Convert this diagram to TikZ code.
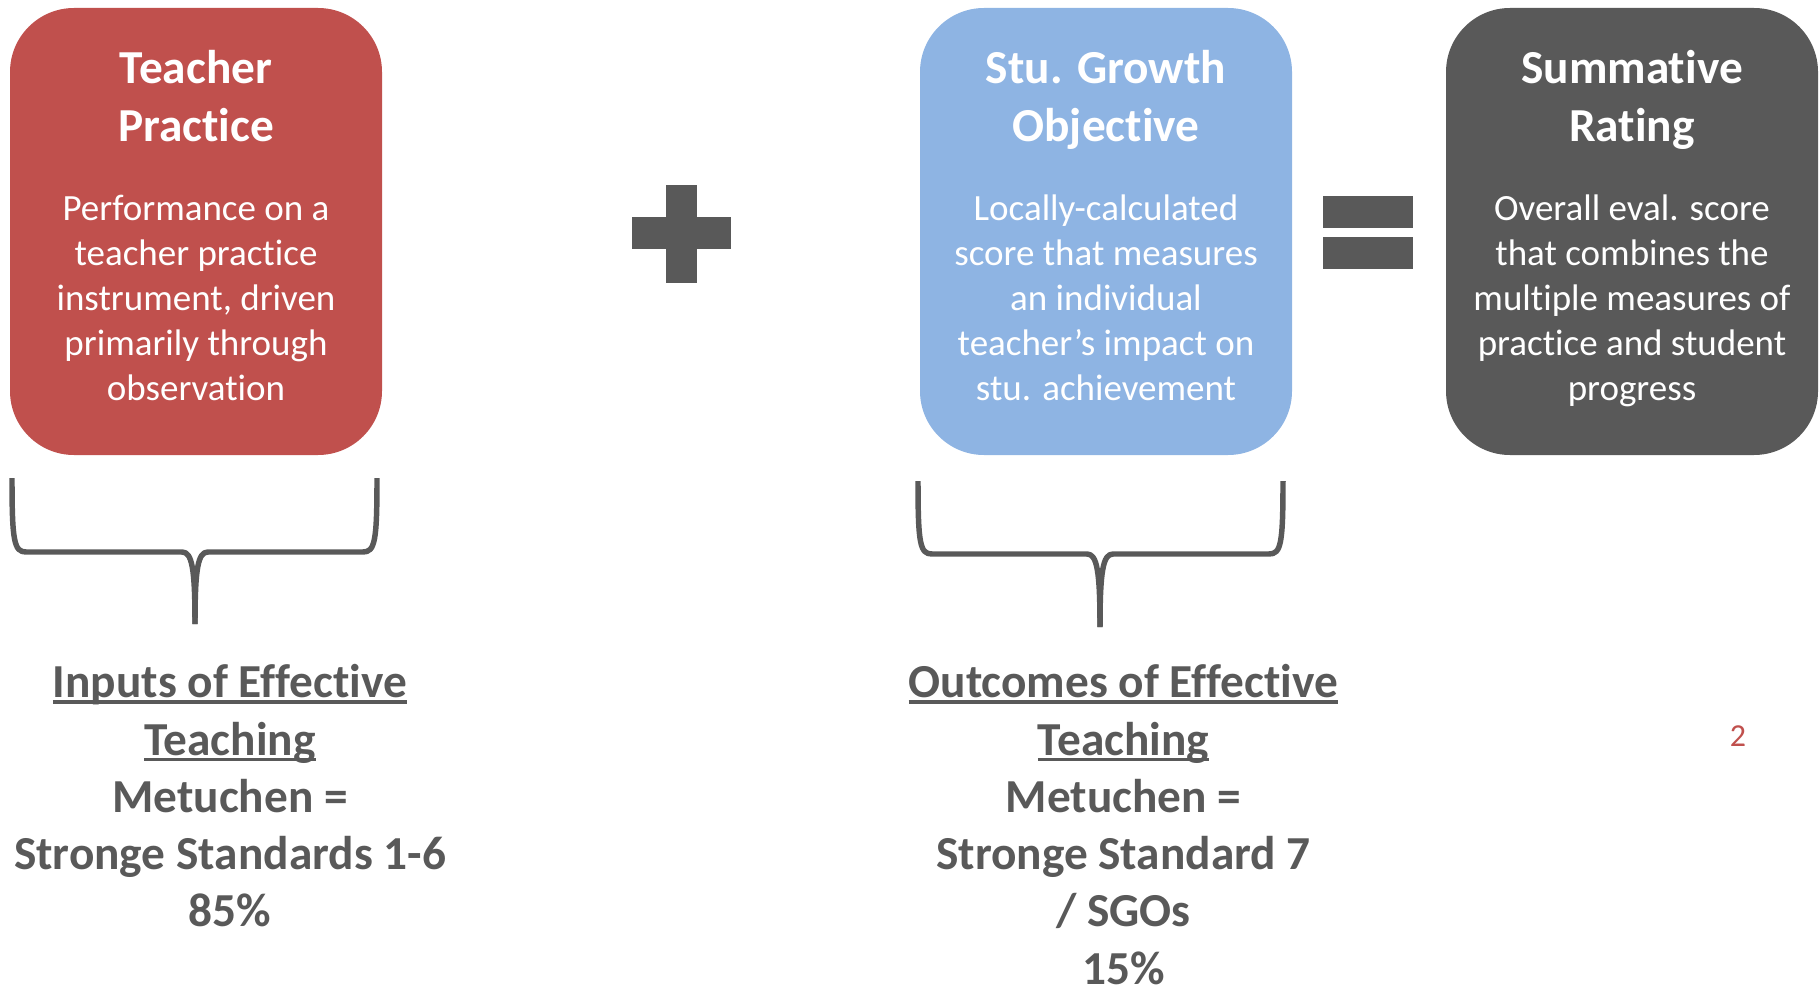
\documentclass[tikz,border=0pt]{standalone}
\usepackage{fontspec}
\setmainfont{Carlito}[Ligatures={NoCommon}]
\definecolor{boxred}{HTML}{C0504D}
\definecolor{boxblue}{HTML}{8EB4E3}
\definecolor{boxdark}{HTML}{595959}
\definecolor{txtgray}{HTML}{595959}
\newcommand\myul[1]{\setbox0\hbox{#1}\rlap{\rule[-4.4pt]{\wd0}{2.5pt}}\box0}
\begin{document}
\begin{tikzpicture}[x=0.75pt,y=-0.75pt,
  card/.style={rectangle, rounded corners=48pt, minimum width=279pt, minimum height=335.25pt, inner sep=0pt, draw=none},
  cardtitle/.style={anchor=base, inner sep=0pt, text=white, font=\fontsize{35.5pt}{43.1pt}\selectfont\bfseries},
  cardbody/.style={anchor=base, inner sep=0pt, text=white, font=\fontsize{27.75pt}{33.9pt}\selectfont},
  bottomtext/.style={anchor=base, inner sep=0pt, text=txtgray, font=\fontsize{35.5pt}{43pt}\selectfont\bfseries},
  bracestyle/.style={draw=boxdark, line width=4.1pt, line join=round}
]
\useasboundingbox (0,0) rectangle (1820,988);

% cards
\node[card, fill=boxred]  (red)  at (196,231.5) {};
\node[card, fill=boxblue] (blue) at (1106,231.5) {};
\node[card, fill=boxdark] (dark) at (1632,231.5) {};

% card titles
\foreach \t [count=\i] in {Teacher, Practice}
  \node[cardtitle] (redt\i) at (196,{84+(\i-1)*57.5}) {\t};
\foreach \t [count=\i] in {Stu. Growth, Objective}
  \node[cardtitle] (bluet\i) at (1106,{84+(\i-1)*57.5}) {\t};
\foreach \t [count=\i] in {Summative, Rating}
  \node[cardtitle] (darkt\i) at (1632,{84+(\i-1)*57.5}) {\t};

% card bodies
\foreach \t [count=\i] in {Performance on a, teacher practice, {instrument, driven}, primarily through, observation}
  \node[cardbody] (redb\i) at (196,{220+(\i-1)*45.2}) {\t};
\foreach \t [count=\i] in {Locally-calculated, score that measures, an individual, teacher’s impact on, stu. achievement}
  \node[cardbody] (blueb\i) at (1106,{220+(\i-1)*45.2}) {\t};
\foreach \t [count=\i] in {Overall eval. score, that combines the, multiple measures of, practice and student, progress}
  \node[cardbody] (darkb\i) at (1632,{220+(\i-1)*45.2}) {\t};

% plus sign
\fill[boxdark] (666,185) rectangle (697,283);
\fill[boxdark] (632,217) rectangle (731,249);

% equals sign
\fill[boxdark] (1323,196) rectangle (1413,228);
\fill[boxdark] (1323,237) rectangle (1413,269);

% braces
\coordinate (ltip) at (195,624);
\coordinate (rtip) at (1100,627);
\draw[bracestyle] (12,478) .. controls (12,541) and (14,552) .. (26,552) -- (182,552) .. controls (192,552) and (195,568) .. (ltip);
\draw[bracestyle] (377,478) .. controls (377,541) and (375,552) .. (363,552) -- (208,552) .. controls (198,552) and (195,568) .. (ltip);
\draw[bracestyle] (918,481) .. controls (918,544) and (920,554) .. (932,554) -- (1087,554) .. controls (1097,554) and (1100,571) .. (rtip);
\draw[bracestyle] (1283,481) .. controls (1283,544) and (1281,554) .. (1269,554) -- (1113,554) .. controls (1103,554) and (1100,571) .. (rtip);

% bottom texts
\foreach \t [count=\i] in {\myul{Inputs of Effective}, \myul{Teaching}, Metuchen =, Stronge Standards 1-6, 85\%}
  \node[bottomtext] (inp\i) at (230,{697.7+(\i-1)*57.3}) {\t};
\foreach \t [count=\i] in {\myul{Outcomes of Effective}, \myul{Teaching}, Metuchen =, Stronge Standard 7, / SGOs, 15\%}
  \node[bottomtext] (out\i) at (1123.5,{697.7+(\i-1)*57.3}) {\t};

% page number
\node[anchor=base, inner sep=0pt, text=boxred, font=\fontsize{24pt}{28pt}\selectfont] (pagenum) at (1738,746.7) {2};
\end{tikzpicture}
\end{document}
